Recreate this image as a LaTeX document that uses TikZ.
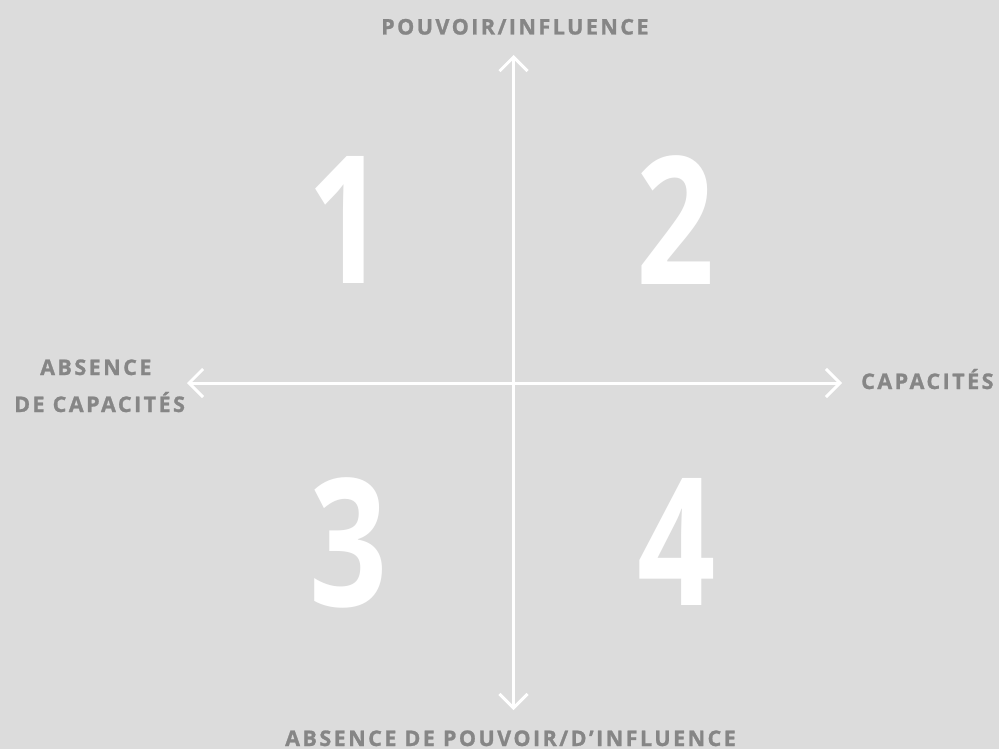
\documentclass[tikz,border=0pt]{standalone}
\usepackage{fontspec}
\setmainfont{Open Sans}
\newfontfamily\lblfont[LetterSpace=11.5,FakeBold=1.2]{Open Sans Bold}
\newfontfamily\numfont{Open Sans Bold}
\usetikzlibrary{arrows.meta}
\definecolor{bg}{HTML}{DCDCDC}
\definecolor{lbl}{HTML}{868686}
\tikzset{
  axis/.style={draw=white, line width=3pt, {Straight Barb[length=14pt,width=28pt]}-{Straight Barb[length=14pt,width=28pt]}},
  lbltext/.style={text=lbl, inner sep=0pt, font=\lblfont\fontsize{21.5}{24}\selectfont},
  numtext/.style={text=white, inner sep=0pt, font=\numfont\fontsize{178}{180}\selectfont, xscale=0.77}
}
\begin{document}
\begin{tikzpicture}[x=1pt,y=-1pt]
\fill[bg] (0,0) rectangle (999,749);
\useasboundingbox (0,0) rectangle (999,749);
\coordinate (top) at (513.5,55);
\coordinate (bot) at (513.5,710);
\coordinate (lft) at (187,383);
\coordinate (rgt) at (842,383);
\draw[axis] (bot) -- (top);
\draw[axis] (lft) -- (rgt);
\node[numtext] (n1) at (347,220) {1};
\node[numtext] (n2) at (676,220) {2};
\node[numtext] (n3) at (349,543) {3};
\node[numtext] (n4) at (677,542) {4};
\node[lbltext, anchor=base west] (pouv) at (381,34.5) {POUVOIR/INFLUENCE};
\node[lbltext, anchor=base west] (abspouv) at (285,746) {ABSENCE DE POUVOIR/D’INFLUENCE};
\node[lbltext, anchor=base west] (cap) at (861,389) {CAPACITÉS};
\node[lbltext, anchor=base west] (abs1) at (40,375) {ABSENCE};
\node[lbltext, anchor=base west] (abs2) at (14,412) {DE CAPACITÉS};
\end{tikzpicture}
\end{document}
